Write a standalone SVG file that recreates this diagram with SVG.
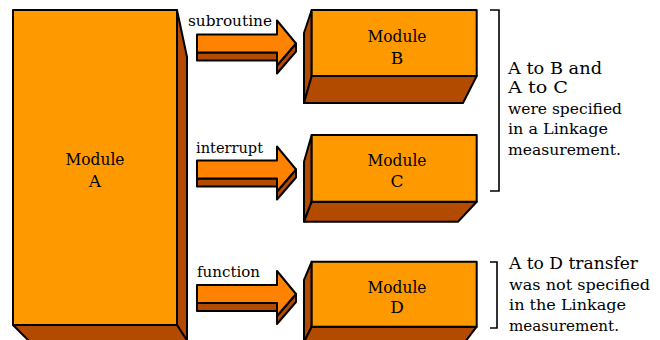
<svg xmlns="http://www.w3.org/2000/svg" width="660" height="340" viewBox="0 0 660 340">
<style>
.front{fill:#FE9A00;stroke:#000;stroke-width:2;stroke-linejoin:round}
.dark{fill:#B24A00;stroke:#000;stroke-width:2;stroke-linejoin:round}
.arr{fill:#FF8300;stroke:#000;stroke-width:2;stroke-linejoin:round}
.lbl{font-family:"DejaVu Serif","Liberation Serif",serif;fill:#000}
.mod{font-size:17px;text-anchor:middle}
.conn{font-size:15px}
.note{font-size:14px}
.note2{font-size:16px}
.br{fill:none;stroke:#000;stroke-width:1.6}
</style>
<defs>
<g id="arrow">
<polygon class="dark" points="197,9 277,9 277,22 296,0 296,8 277,30 277,17 197,17"/>
<polygon class="arr" points="197,-9 277,-9 277,-23 296,0 277,22 277,9 197,9"/>
</g>
</defs>
<rect width="660" height="340" fill="#fff"/>

<g id="moduleA">
<polygon class="dark" points="177,10 187,57 187,342 177,325"/>
<polygon class="dark" points="13,325 177,325 188,342 30,342"/>
<rect class="front" x="13" y="10" width="164" height="315"/>
<text class="lbl mod" x="95" y="165" textLength="59" lengthAdjust="spacingAndGlyphs">Module</text>
<text class="lbl mod" x="95" y="187">A</text>
</g>

<g id="moduleB">
<polygon class="dark" points="311.7,10 304,33 304,103 311.7,76"/>
<polygon class="dark" points="311.7,76 476.7,76 463,103 304,103"/>
<rect class="front" x="311.7" y="10" width="165" height="66"/>
<text class="lbl mod" x="397" y="42" textLength="59" lengthAdjust="spacingAndGlyphs">Module</text>
<text class="lbl mod" x="397" y="63.5">B</text>
</g>

<g id="moduleC">
<polygon class="dark" points="311.7,135 304,161.7 304,221.7 311.7,201.7"/>
<polygon class="dark" points="311.7,201.7 476.7,201.7 458,221.7 304,221.7"/>
<rect class="front" x="311.7" y="135" width="165" height="66.7"/>
<text class="lbl mod" x="397" y="166" textLength="59" lengthAdjust="spacingAndGlyphs">Module</text>
<text class="lbl mod" x="397" y="187">C</text>
</g>

<g id="moduleD">
<polygon class="dark" points="311.7,261.7 304,280 304,342 311.7,326.7"/>
<polygon class="dark" points="311.7,326.7 476.7,326.7 465,342 304,342"/>
<rect class="front" x="311.7" y="261.7" width="165" height="65"/>
<text class="lbl mod" x="397" y="293" textLength="59" lengthAdjust="spacingAndGlyphs">Module</text>
<text class="lbl mod" x="397" y="313">D</text>
</g>

<g id="connectors">
<g id="arrowAB">
<use href="#arrow" transform="translate(0,43.5)"/>
<text class="lbl conn" x="188" y="25.5" textLength="84" lengthAdjust="spacingAndGlyphs">subroutine</text>
</g>
<g id="arrowAC">
<use href="#arrow" transform="translate(0,169.5)"/>
<text class="lbl conn" x="196" y="152.5" textLength="67" lengthAdjust="spacingAndGlyphs">interrupt</text>
</g>
<g id="arrowAD">
<use href="#arrow" transform="translate(0,294)"/>
<text class="lbl conn" x="197" y="276.5" textLength="63" lengthAdjust="spacingAndGlyphs">function</text>
</g>
</g>

<g id="note1">
<path class="br" d="M490,10 H499 V191 H490"/>
<text class="lbl note2" x="508" y="73.5" textLength="94" lengthAdjust="spacingAndGlyphs">A to B and</text>
<text class="lbl note2" x="508" y="92.5" textLength="60" lengthAdjust="spacingAndGlyphs">A to C</text>
<text class="lbl note" x="508" y="113.5" textLength="114" lengthAdjust="spacingAndGlyphs">were specified</text>
<text class="lbl note" x="508" y="134" textLength="100" lengthAdjust="spacingAndGlyphs">in a Linkage</text>
<text class="lbl note" x="508" y="155" textLength="113" lengthAdjust="spacingAndGlyphs">measurement.</text>
</g>

<g id="note2">
<path class="br" d="M490,262 H497 V328 H490"/>
<text class="lbl note2" x="509" y="268.5" textLength="129" lengthAdjust="spacingAndGlyphs">A to D transfer</text>
<text class="lbl note" x="509" y="289.5" textLength="141" lengthAdjust="spacingAndGlyphs">was not specified</text>
<text class="lbl note" x="509" y="310" textLength="117" lengthAdjust="spacingAndGlyphs">in the Linkage</text>
<text class="lbl note" x="509" y="331" textLength="110" lengthAdjust="spacingAndGlyphs">measurement.</text>
</g>
</svg>
